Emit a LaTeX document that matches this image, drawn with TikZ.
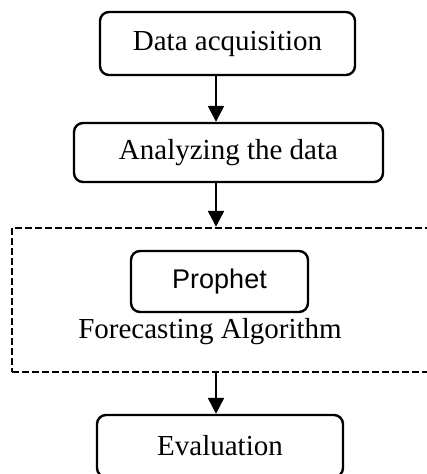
\documentclass[tikz,border=0pt]{standalone}
\usepackage{fontspec}
\setmainfont{Liberation Serif}
\newfontfamily\algofont{Liberation Sans}
\usetikzlibrary{arrows.meta}
\tikzstyle{stage}=[draw, rounded corners=9pt, line width=2.4pt, inner sep=0pt, font=\fontsize{29}{32}\selectfont]
\tikzset{flow/.style={line width=2.4pt, -{Triangle[width=16pt,length=16pt]}}}

\begin{document}
\begin{tikzpicture}[x=1pt, y=-1pt]
    \useasboundingbox (0,0) rectangle (427,474);
    \clip (0,0) rectangle (427,474);
    \coordinate (axis) at (216,0);
    \node[stage, minimum width=255pt, minimum height=63pt] (acq) at (227.5,43.5) {Data acquisition};
    \node[stage, minimum width=309pt, minimum height=59pt] (analyze) at (228.5,152.5) {Analyzing the data};
    \node[draw, line width=2.4pt, dash pattern=on 7pt off 3pt, minimum width=428pt, minimum height=144pt] (algo) at (226,300) {};
    \node[stage, minimum width=177pt, minimum height=61pt, font=\fontsize{27}{30}\algofont] (prophet) at (219.5,281.5) {Prophet};
    \node[inner sep=0pt, font=\fontsize{29}{32}\selectfont] (algolabel) at (210,332) {Forecasting Algorithm};
    \node[stage, minimum width=246pt, minimum height=62pt] (eval) at (220,446) {Evaluation};
    \draw[flow] (axis |- acq.south) -- (axis |- analyze.north);
    \draw[flow] (axis |- analyze.south) -- (axis |- algo.north);
    \draw[flow] (axis |- algo.south) -- (axis |- eval.north);
\end{tikzpicture}
\end{document}
